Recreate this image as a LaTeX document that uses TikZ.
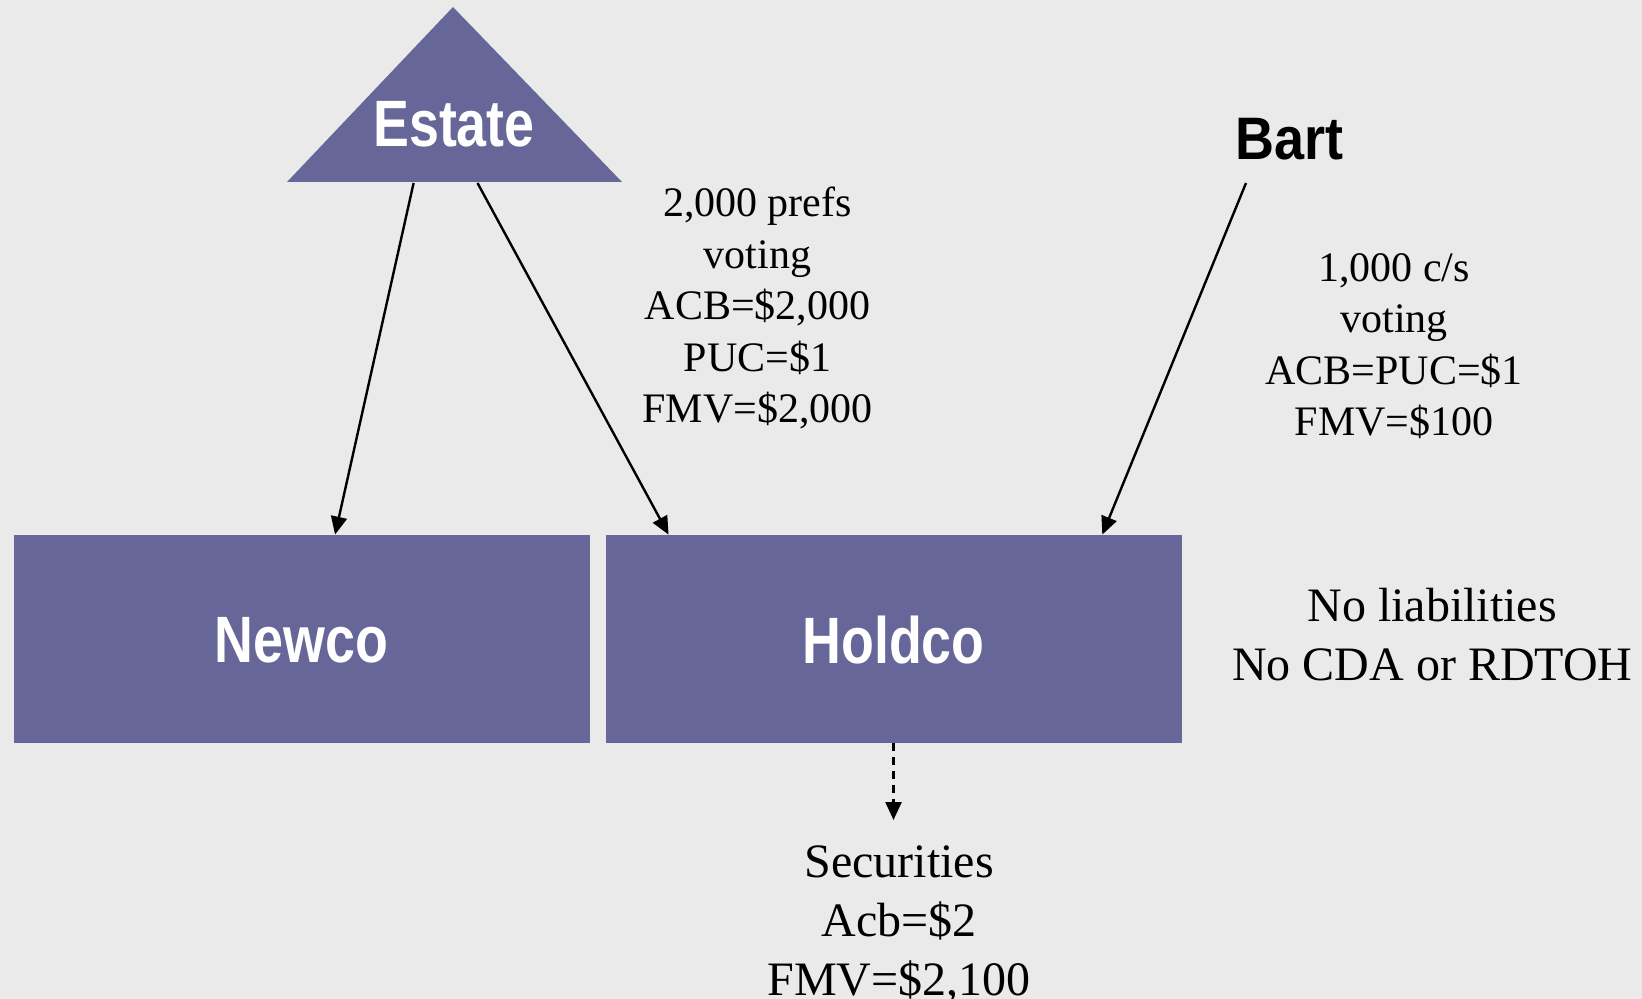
\documentclass[tikz,border=0pt]{standalone}
\usepackage{fontspec}
\setmainfont{Liberation Serif}
\newfontfamily\headfont[FakeStretch=0.82]{Liberation Sans}
\newfontfamily\bartfont[FakeStretch=0.9]{Liberation Sans}
\usepackage{xcolor}
\usepackage{tikz}
\usetikzlibrary{arrows.meta,positioning,calc}
\definecolor{entity}{RGB}{102,102,153}
\definecolor{paper}{RGB}{234,234,234}

\begin{document}
\begin{tikzpicture}[x=0.5pt, y=-0.5pt, >={Triangle[length=9pt,width=8pt]},
  every node/.style={inner sep=0pt},
  entbox/.style={fill=entity, text=white, minimum width=288pt, minimum height=103.75pt,
    font=\headfont\bfseries\fontsize{32.8}{36}\selectfont},
  info/.style={align=center, anchor=base, font=\fontsize{21}{25.75}\selectfont},
  infobig/.style={align=center, anchor=base, font=\fontsize{24}{29.5}\selectfont},
  link/.style={->, line width=1.2pt}]
  \fill[paper] (0,0) rectangle (1642,999);
  \useasboundingbox (0,0) rectangle (1642,999);

  % the estate on top
  \fill[entity] (287,182) -- (453,7) -- (622,182) -- cycle;
  \node[anchor=base, text=white, font=\headfont\bfseries\fontsize{32.8}{36}\selectfont] (estate) at (454,147) {Estate};
  \coordinate (est-a) at (413.6,183);
  \coordinate (est-b) at (477.5,183);

  \node[anchor=base, font=\bartfont\bfseries\fontsize{30}{34}\selectfont] (bart) at (1289.5,160) {Bart};
  \coordinate (bart-a) at (1246,183);

  % companies
  \node[entbox, text depth=0pt] (newco) at (301.6,638.75) {\raisebox{-1.2pt}{Newco}};
  \node[entbox, text depth=0pt] (holdco) at (893.5,638.75) {\raisebox{-1.2pt}{Holdco}};

  % share details (base = last line)
  \node[info] (prefs) at (757.5,423) {2,000 prefs\\voting\\ACB=\$2,000\\PUC=\$1\\FMV=\$2,000};
  \node[info] (common) at (1394,435.7) {1,000 c/s\\voting\\ACB=PUC=\$1\\FMV=\$100};
  \node[infobig] (liab) at (1432.3,680.7) {No liabilities\\No CDA or RDTOH};
  \node[infobig] (secur) at (899,995) {Securities\\Acb=\$2\\FMV=\$2,100};
  \coordinate (sec-a) at (893.5,820);

  \draw[link] (est-a) -- ($(newco.north west)!0.558!(newco.north east)$);
  \draw[link] (est-b) -- ($(holdco.north west)!0.110!(holdco.north east)$);
  \draw[link] (bart-a) -- ($(holdco.north west)!0.862!(holdco.north east)$);
  \draw[link, dash pattern=on 4pt off 3pt] (holdco.south) -- (sec-a);
\end{tikzpicture}
\end{document}
